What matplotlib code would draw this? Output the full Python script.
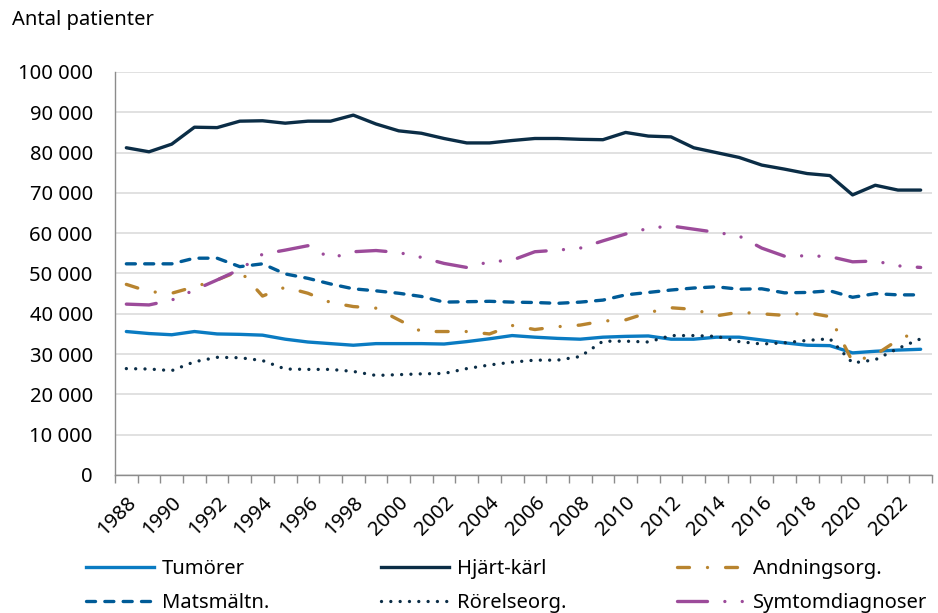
import matplotlib
matplotlib.use("Agg")
import numpy as np
from matplotlib import pyplot as plt
from matplotlib.ticker import FuncFormatter
from matplotlib.lines import Line2D

plt.rcParams['font.family'] = ['Noto Sans', 'DejaVu Sans']
plt.rcParams['lines.scale_dashes'] = False

# Data
years = list(range(1988, 2024))

tumorer = [35600, 35100, 34800, 35600, 35000, 34900, 34700, 33700, 33000, 32600,
           32200, 32600, 32600, 32600, 32500, 33100, 33800, 34600, 34200, 33900,
           33700, 34200, 34400, 34500, 33700, 33700, 34200, 34200, 33500, 32800,
           32200, 32100, 30300, 30700, 31000, 31200]
hjart_karl = [81200, 80200, 82100, 86300, 86200, 87800, 87900, 87300, 87800, 87800,
              89300, 87100, 85400, 84800, 83500, 82400, 82400, 83000, 83500, 83500,
              83300, 83200, 85000, 84100, 83900, 81200, 80000, 78800, 76900, 75900,
              74800, 74300, 69500, 71900, 70700, 70700]
andningsorg = [47300, 45500, 45100, 46700, 48400, 50700, 44400, 46600, 45100, 42800,
               41800, 41400, 38500, 35600, 35600, 35600, 35000, 37100, 36100, 36800,
               37200, 38200, 38500, 40300, 41500, 41100, 39500, 40400, 40000, 39600,
               40300, 39300, 28100, 29800, 33500, 36000]
matsmaltn = [52400, 52400, 52400, 53800, 53800, 51700, 52400, 49900, 48800, 47400,
             46200, 45700, 45100, 44300, 42900, 43000, 43100, 42900, 42800, 42600,
             42900, 43400, 44700, 45300, 45900, 46400, 46700, 46100, 46200, 45200,
             45300, 45700, 44100, 45000, 44700, 44700]
rorelseorg = [26400, 26300, 25900, 28100, 29200, 29100, 28400, 26300, 26200, 26200,
              25700, 24700, 24900, 25100, 25200, 26400, 27300, 28000, 28500, 28500,
              29400, 33200, 33200, 33000, 34600, 34600, 34400, 33100, 32500, 32800,
              33400, 33800, 27800, 28600, 31400, 33800]
symtomdiagnoser = [42400, 42200, 43400, 45900, 48400, 51000, 54800, 55800, 56900, 53800,
                   55400, 55700, 55200, 54000, 52500, 51500, 52900, 53300, 55400, 55800,
                   56300, 58100, 59800, 61200, 61800, 61000, 60200, 59300, 56300, 54300,
                   54400, 54200, 52900, 53100, 51900, 51500]

# label, values, colour, linestyle (dash lengths in points)
series = [
    ("Tumörer", tumorer, "#0a7bc2", "-"),
    ("Hjärt-kärl", hjart_karl, "#0b2d46", "-"),
    ("Andningsorg.", andningsorg, "#b8842f", (0, (8.6, 13, 0.01, 13))),
    ("Matsmältn.", matsmaltn, "#005b97", (0, (6.5, 6.7))),
    ("Rörelseorg.", rorelseorg, "#0b2d46", (0, (0.01, 6.7))),
    ("Symtomdiagnoser", symtomdiagnoser, "#9c4b9a", (0, (21.6, 12.5, 0.01, 12.5, 0.01, 12.5))),
]
styles = {label: (color, ls) for label, _, color, ls in series}

fig = plt.figure(figsize=(9.38, 6.13), dpi=100)
ax = fig.add_axes([115 / 938, 1 - 475 / 613, 817 / 938, 403 / 613])

for label, vals, color, ls in series:
    ax.plot(years, vals, color=color, linestyle=ls, linewidth=2.4,
            dash_capstyle='round', solid_capstyle='round', solid_joinstyle='round')

ax.set_xlim(years[0] - 0.5, years[-1] + 0.5)
ax.set_ylim(0, 100000)
ax.set_yticks(np.arange(0, 100001, 10000))
ax.yaxis.set_major_formatter(FuncFormatter(lambda v, p: f"{int(v):,}".replace(",", " ")))
ax.grid(axis='y', color='#d9d9d9', linewidth=1.1)
ax.set_axisbelow(True)

ax.set_xticks(years[::2])
ax.set_xticklabels([str(y) for y in years[::2]], rotation=45, ha='right',
                   rotation_mode='anchor')
ax.set_xticks(np.arange(years[0] - 0.5, years[-1] + 1), minor=True)
ax.tick_params(axis='x', which='major', length=0, pad=13, labelsize=14.5)
ax.tick_params(axis='x', which='minor', length=6, width=1, color='#8c8c8c')
ax.tick_params(axis='y', length=0, pad=16, labelsize=14.5)

for s in ['top', 'right']:
    ax.spines[s].set_visible(False)
for s in ['left', 'bottom']:
    ax.spines[s].set_color('#8c8c8c')
    ax.spines[s].set_linewidth(1)

fig.text(12 / 938, 1 - 20 / 613, "Antal patienter", fontsize=14.5, va='center', ha='left')

# Legend: three columns placed by hand
columns = [("Tumörer", "Matsmältn."), ("Hjärt-kärl", "Rörelseorg."),
           ("Andningsorg.", "Symtomdiagnoser")]
col_x = [86, 381, 677]
for cx, labels in zip(col_x, columns):
    hs = [Line2D([], [], color=styles[l][0], linestyle=styles[l][1],
                 linewidth=2.4, dash_capstyle='round') for l in labels]
    fig.legend(hs, labels, loc='upper left', bbox_to_anchor=(cx / 938, 1 - 559 / 613),
               frameon=False, fontsize=14.5, handlelength=3.4, handletextpad=0.35,
               labelspacing=0.7, borderpad=0, borderaxespad=0)

fig.savefig("out.png", dpi=100)
